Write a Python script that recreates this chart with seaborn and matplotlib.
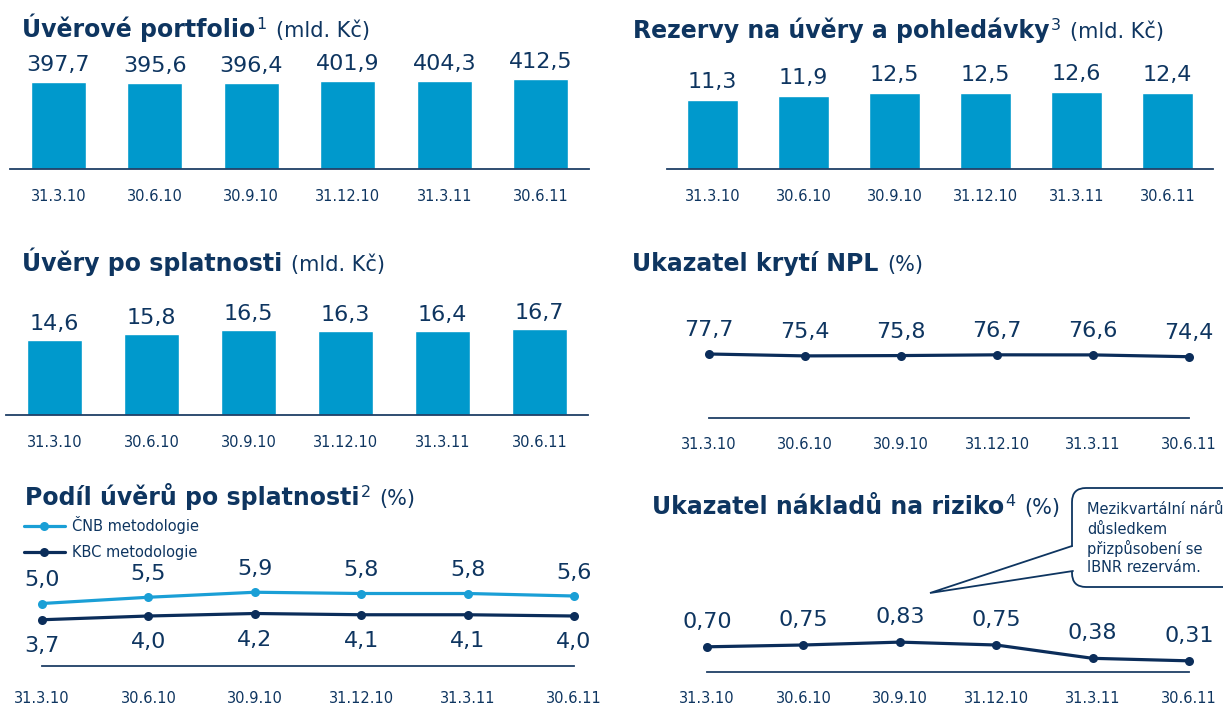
import numpy as np
import matplotlib
matplotlib.use("Agg")
import matplotlib.pyplot as plt
import seaborn as sns
from matplotlib.patches import FancyBboxPatch, Polygon

# ---------------- data ----------------
dates = ["31.3.10", "30.6.10", "30.9.10", "31.12.10", "31.3.11", "30.6.11"]
portfolio = [397.7, 395.6, 396.4, 401.9, 404.3, 412.5]
rezervy = [11.3, 11.9, 12.5, 12.5, 12.6, 12.4]
po_splatnosti = [14.6, 15.8, 16.5, 16.3, 16.4, 16.7]
kryti_npl = [77.7, 75.4, 75.8, 76.7, 76.6, 74.4]
podil_cnb = [5.0, 5.5, 5.9, 5.8, 5.8, 5.6]
podil_kbc = [3.7, 4.0, 4.2, 4.1, 4.1, 4.0]
naklady_riziko = [0.70, 0.75, 0.83, 0.75, 0.38, 0.31]

legend_labels = ["ČNB metodologie", "KBC metodologie"]
callout_lines = ["Mezikvartální nárůst", "důsledkem", "přizpůsobení se", "IBNR rezervám."]

# ---------------- style ----------------
sns.set_theme(style="white")
plt.rcParams["font.family"] = ["DejaVu Sans"]

NAVY = "#0E3560"
LINE_DARK = "#0B2D5A"
LINE_LIGHT = "#1A9FD6"
BAR = "#0099CC"
BASE = "#1F3F66"

W, H = 1223, 709
fig = plt.figure(figsize=(W / 100, H / 100), dpi=100)
fig.patch.set_facecolor("white")


def add_ax(x0, x1, ytop, ybase):
    return fig.add_axes([x0 / W, 1 - ybase / H, (x1 - x0) / W, (ybase - ytop) / H])


def fmt(v, d=1):
    return f"{v:.{d}f}".replace(".", ",")


def style_axis(ax, pad_px):
    for s in ["top", "right", "left"]:
        ax.spines[s].set_visible(False)
    ax.spines["bottom"].set_color(BASE)
    ax.spines["bottom"].set_linewidth(1.3)
    ax.set_yticks([])
    ax.set_xlabel("")
    ax.set_ylabel("")
    ax.tick_params(axis="x", length=0, pad=pad_px * 0.72, labelsize=10.5, labelcolor=NAVY)
    ax.set_facecolor("none")


def bar_panel(x0, x1, ytop, ybase, values, ppu, label_off, pad_px):
    ax = add_ax(x0, x1, ytop, ybase)
    sns.barplot(x=dates, y=values, color=BAR, saturation=1, width=0.57, ax=ax)
    ax.set_xlim(-0.5, 5.5)
    ax.set_ylim(0, (ybase - ytop) / ppu)
    for i, v in enumerate(values):
        ax.annotate(fmt(v), (i, v), xytext=(0, label_off * 0.72), textcoords="offset points",
                    ha="center", va="center", fontsize=16, color=NAVY)
    style_axis(ax, pad_px)
    return ax


def line_panel(x0, x1, ytop, ybase, ppu):
    ax = add_ax(x0, x1, ytop, ybase)
    ax.set_xlim(0, 5)
    ax.set_ylim(0, (ybase - ytop) / ppu)
    return ax


def add_line(ax, values, color, label, off_px, d=1):
    x = np.arange(len(values))
    sns.lineplot(x=x, y=values, color=color, marker="o", markersize=6.5, linewidth=2.3,
                 markeredgewidth=0, clip_on=False, label=label, ax=ax)
    for i, v in enumerate(values):
        ax.annotate(fmt(v, d), (i, v), xytext=(0, off_px * 0.72), textcoords="offset points",
                    ha="center", va="center", fontsize=16, color=NAVY, annotation_clip=False)


# Panel A: Úvěrové portfolio
bar_panel(10, 589, 40, 169, portfolio, 90 / 412.5, 17, 20)
# Panel B: Rezervy
bar_panel(667, 1213, 40, 169, rezervy, 6.11, 18, 20)
# Panel C: Úvěry po splatnosti
bar_panel(6, 588, 290, 415, po_splatnosti, 5.15, 16, 20)

# Panel D: Ukazatel krytí NPL
axD = line_panel(709, 1189, 300, 418, 64 / 77.7)
add_line(axD, kryti_npl, LINE_DARK, None, 24)
axD.set_xticks(range(len(dates)), dates)
style_axis(axD, 19)
if axD.get_legend():
    axD.get_legend().remove()

# Panel E: Podíl úvěrů po splatnosti
axE = line_panel(42, 574, 570, 666, 12.5)
add_line(axE, podil_cnb, LINE_LIGHT, legend_labels[0], 23)
add_line(axE, podil_kbc, LINE_DARK, legend_labels[1], -26)
axE.set_xticks(range(len(dates)), dates)
style_axis(axE, 25)
axE.legend(loc="upper left", bbox_to_anchor=(24 / W, 1 - 516 / H), bbox_transform=fig.transFigure,
           frameon=False, fontsize=10.5, labelcolor=NAVY, handlelength=2.8, handletextpad=0.5,
           labelspacing=0.75, borderpad=0, borderaxespad=0)

# Panel F: Ukazatel nákladů na riziko
axF = line_panel(707, 1189, 600, 672, 36)
add_line(axF, naklady_riziko, LINE_DARK, None, 25, d=2)
axF.set_xticks(range(len(dates)), dates)
style_axis(axF, 19)
if axF.get_legend():
    axF.get_legend().remove()

# ---------------- overlay: titles and callout ----------------
ov = fig.add_axes([0, 0, 1, 1], zorder=10)
ov.set_xlim(0, W)
ov.set_ylim(H, 0)
ov.axis("off")
renderer = fig.canvas.get_renderer()


def title(x, y, bold, sup, rest):
    t = ov.text(x, y, bold, fontsize=17, fontweight="bold", color=NAVY, va="baseline")
    x1 = t.get_window_extent(renderer).x1
    if sup:
        t2 = ov.text(x1 + 1, y - 8, sup, fontsize=11.5, color=NAVY, va="baseline")
        x1 = t2.get_window_extent(renderer).x1
    ov.text(x1 + 9, y, rest, fontsize=15, color=NAVY, va="baseline")


title(22, 37, "Úvěrové portfolio", "1", "(mld. Kč)")
title(633, 38, "Rezervy na úvěry a pohledávky", "3", "(mld. Kč)")
title(22, 271, "Úvěry po splatnosti", None, "(mld. Kč)")
title(632, 271, "Ukazatel krytí NPL", None, "(%)")
title(25, 505, "Podíl úvěrů po splatnosti", "2", "(%)")
title(652, 514, "Ukazatel nákladů na riziko", "4", "(%)")

box = FancyBboxPatch((1072, 488), 200, 99, boxstyle="round,pad=0,rounding_size=14",
                     facecolor="white", edgecolor=NAVY, linewidth=1.3, zorder=1)
ov.add_patch(box)
ov.add_patch(Polygon([(1075, 546), (930, 593), (1075, 571)], closed=True,
                     facecolor="white", edgecolor="none", zorder=2))
ov.plot([1072, 930, 1073], [546, 593, 571], color=NAVY, linewidth=1.3, zorder=3,
        solid_joinstyle="miter")
for k, line in enumerate(callout_lines):
    ov.text(1087, 510 + k * 19, line, fontsize=10.5, color=NAVY, va="center", zorder=4)

fig.savefig("out.png", dpi=100, facecolor="white")
